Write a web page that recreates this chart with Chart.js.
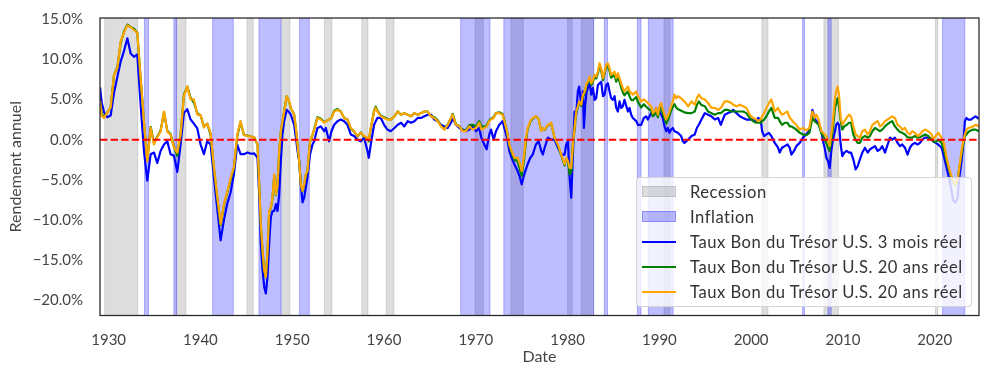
<!DOCTYPE html>
<html>
<head>
<meta charset="utf-8">
<script src="https://cdn.jsdelivr.net/npm/chart.js@4.4.1/dist/chart.umd.min.js"></script>
<style>
  html, body { margin: 0; padding: 0; background: #fff; }
  #wrap { position: relative; width: 989px; height: 375px; }
  #legend {
    position: absolute; left: 636px; top: 177px; width: 336px; height: 130px;
    box-sizing: border-box; border: 1px solid #d4d4d4; border-radius: 4px;
    background: rgba(255, 255, 255, 0.8);
    font-family: Lato, sans-serif; font-size: 16.6px; letter-spacing: 0.5px; color: #333;
  }
  .row { position: absolute; left: 0; width: 100%; height: 24px; }
  .key { position: absolute; left: 5px; width: 34px; }
  .patch { top: 6px; height: 11px; box-sizing: border-box; }
  .line { top: 11px; height: 2px; }
  .txt { position: absolute; left: 53px; top: 2px; white-space: nowrap; line-height: 20px; }
</style>
</head>
<body>
<div id="wrap">
  <canvas id="chart" width="989" height="375"></canvas>
  <div id="legend"></div>
</div>
<script>
// Taux réels des bons du Trésor U.S. (en %)
const years = [
  // 1929-1945
  1929.06, 1929.25, 1929.5, 1929.86, 1930.22, 1930.58, 1930.95, 1931.31, 1931.67, 1932.04,
  1932.4, 1932.76, 1933.12, 1933.49, 1933.85, 1934.21, 1934.58, 1934.94, 1935.3, 1935.66,
  1936.03, 1936.39, 1936.75, 1937.12, 1937.48, 1937.84, 1938.2, 1938.57, 1938.93, 1939.29,
  1939.66, 1940.02, 1940.38, 1940.74, 1941.11, 1941.47, 1941.83, 1942.2, 1942.56, 1942.92,
  1943.28, 1943.65, 1944.01, 1944.37, 1944.73,
  // 1945-1961
  1945.13, 1945.5, 1945.86, 1946.22, 1946.4, 1946.58, 1946.77, 1946.95, 1947.13, 1947.31,
  1947.49, 1947.67, 1947.85, 1948.04, 1948.22, 1948.4, 1948.58, 1948.76, 1948.94, 1949.12,
  1949.4, 1949.67, 1949.85, 1950.21, 1950.4, 1950.58, 1950.76, 1950.94, 1951.12, 1951.3,
  1951.48, 1951.66, 1951.94, 1952.21, 1952.39, 1952.75, 1953.12, 1953.48, 1953.66, 1954.02,
  1954.28, 1954.57, 1954.93, 1955.29, 1955.66, 1956.02, 1956.38, 1956.74, 1957.11, 1957.47,
  1957.83, 1958.2, 1958.34, 1958.56, 1958.92, 1959.1, 1959.28, 1959.65, 1960.01, 1960.37,
  1960.73,
  // 1961-1977
  1961.13, 1961.5, 1961.86, 1962.22, 1962.58, 1962.95, 1963.31, 1963.67, 1964.04, 1964.4,
  1964.76, 1965.12, 1965.49, 1965.85, 1966.21, 1966.58, 1966.94, 1967.3, 1967.48, 1967.84,
  1968.21, 1968.57, 1968.94, 1969.3, 1969.66, 1970.02, 1970.38, 1970.6, 1970.93, 1971.18,
  1971.47, 1971.66, 1971.95, 1972.2, 1972.56, 1972.92, 1973.11, 1973.4, 1973.65, 1973.9,
  1974.2, 1974.56, 1974.81, 1975.0, 1975.28, 1975.46, 1975.65, 1975.94, 1976.2, 1976.55,
  1976.85,
  // 1977-1993
  1977.13, 1977.31, 1977.5, 1977.86, 1978.22, 1978.58, 1978.95, 1979.31, 1979.67, 1979.85,
  1980.04, 1980.22, 1980.4, 1980.58, 1980.76, 1980.94, 1981.12, 1981.26, 1981.49, 1981.67,
  1981.78, 1981.92, 1982.07, 1982.21, 1982.4, 1982.58, 1982.76, 1982.94, 1983.12, 1983.3,
  1983.48, 1983.66, 1983.85, 1984.03, 1984.21, 1984.39, 1984.57, 1984.75, 1984.94, 1985.12,
  1985.3, 1985.48, 1985.66, 1985.84, 1986.02, 1986.2, 1986.57, 1986.75, 1986.93, 1987.11,
  1987.48, 1987.66, 1988.02, 1988.31, 1988.56, 1988.74, 1989.11, 1989.29, 1989.47, 1989.65,
  1989.83, 1990.01, 1990.2, 1990.38, 1990.56, 1990.74, 1990.92, 1991.1, 1991.28, 1991.47,
  1991.65, 1991.83, 1992.01, 1992.37, 1992.55, 1992.73,
  // 1993-2009
  1993.13, 1993.5, 1993.86, 1994.08, 1994.3, 1994.58, 1994.95, 1995.31, 1995.67, 1996.04,
  1996.4, 1996.69, 1997.12, 1997.49, 1997.85, 1998.03, 1998.4, 1998.76, 1999.12, 1999.48,
  1999.85, 2000.21, 2000.57, 2000.75, 2001.04, 2001.19, 2001.41, 2001.66, 2001.93, 2002.2,
  2002.57, 2002.93, 2003.11, 2003.36, 2003.66, 2003.95, 2004.2, 2004.38, 2004.67, 2004.92,
  2005.29, 2005.65, 2006.02, 2006.34, 2006.52, 2006.67, 2006.92, 2007.1, 2007.35, 2007.65,
  2007.83, 2008.01, 2008.19, 2008.37, 2008.55, 2008.73, 2008.91,
  // 2009-2024
  2009.13, 2009.26, 2009.42, 2009.57, 2009.75, 2009.93, 2010.15, 2010.4, 2010.66, 2010.88,
  2011.13, 2011.38, 2011.6, 2011.85, 2012.11, 2012.4, 2012.69, 2012.94, 2013.2, 2013.49,
  2013.78, 2014.03, 2014.28, 2014.58, 2014.87, 2015.12, 2015.37, 2015.66, 2015.95, 2016.21,
  2016.46, 2016.75, 2017.04, 2017.3, 2017.55, 2017.84, 2018.13, 2018.39, 2018.64, 2018.93,
  2019.29, 2019.66, 2019.84, 2020.09, 2020.38, 2020.74, 2021.03, 2021.29, 2021.54, 2021.76,
  2022.01, 2022.27, 2022.49, 2022.67, 2022.92, 2023.1, 2023.28, 2023.46, 2023.65, 2023.94,
  2024.19, 2024.45, 2024.8
];

// Taux Bon du Trésor U.S. 3 mois réel
const bill3m = [
  6.5, 4.6, 3.4, 2.8, 3.0, 5.8, 7.8, 9.7, 11.0, 12.6,
  10.7, 10.3, 10.6, 4.3, -1.4, -5.1, -1.8, -1.6, -2.9, -1.4,
  -0.6, -0.2, -1.8, -2.0, -4.0, -0.6, 3.3, 3.8, 2.5, 2.0,
  1.4, -0.6, -1.8, -0.2, -0.6, -4.7, -8.5, -12.5, -10.0, -8.0,
  -6.6, -4.3, -0.6, -1.8, -1.8,
  -1.6, -1.75, -1.7, -2.25, -6.8, -12.9, -16.2, -18.3, -19.1, -17.0,
  -12.9, -9.65, -8.9, -8.85, -8.0, -8.85, -6.8, -2.65, 0.65, 2.3,
  3.7, 3.4, 3.1, 1.85, 0.25, -1.4, -2.65, -5.55, -7.8, -7.2,
  -5.95, -4.7, -1.85, -0.6, -0.2, 1.45, 1.65, 1.05, 1.45, -0.2,
  1.05, 1.85, 2.3, 2.5, 2.3, 1.85, 0.65, 0.45, 0.0, -0.2,
  0.25, -1.4, -2.25, -0.6, 1.85, 2.3, 2.7, 2.7, 1.85, 1.25,
  1.05,
  1.45, 1.85, 2.1, 1.65, 2.3, 2.1, 2.3, 2.7, 2.7, 2.9,
  3.1, 3.1, 2.5, 2.3, 1.85, 1.65, 1.45, 2.1, 2.7, 1.85,
  1.45, 1.25, 1.05, 1.25, 1.65, 1.05, 1.45, 0.25, -0.6, -1.2,
  0.65, 1.25, 0.0, 1.05, 1.85, 2.3, 1.45, 0.25, -1.4, -2.25,
  -3.05, -3.9, -4.7, -5.55, -4.3, -3.7, -3.05, -2.25, -1.85, -0.6,
  -0.2,
  -1.4, -1.85, -1.0, 0.25, 0.0, 0.0, -1.0, -1.85, -1.85, -0.6,
  -0.2, -4.7, -7.2, -1.85, 3.5, 3.1, 6.0, 6.6, 4.35, 6.0,
  1.45, 4.35, 6.0, 6.4, 7.2, 5.6, 6.4, 4.95, 5.15, 6.8,
  7.0, 7.2, 5.4, 5.6, 6.8, 7.0, 6.0, 5.15, 4.95, 5.4,
  3.95, 3.5, 4.75, 3.95, 4.15, 4.95, 3.5, 3.95, 3.1, 2.7,
  2.3, 1.85, 1.85, 2.7, 2.9, 2.5, 3.3, 3.3, 3.5, 3.95,
  3.3, 3.5, 3.1, 2.7, 1.65, 1.05, 1.45, 0.85, 1.25, 1.45,
  1.05, 0.95, 0.85, 0.45, -0.2, -0.4,
  0.0, 0.45, 0.65, 1.45, 1.85, 2.5, 3.3, 3.1, 2.9, 2.5,
  2.7, 1.85, 3.1, 3.3, 3.5, 3.7, 3.3, 2.9, 2.7, 2.5,
  2.5, 2.5, 2.3, 2.7, 2.5, 1.05, 0.45, 0.65, 0.85, 0.45,
  -0.4, -1.0, -1.6, -1.0, -0.8, -0.6, -1.0, -1.85, -1.4, -0.8,
  -0.4, 0.25, 0.7, 1.1, 2.3, 3.7, 2.7, 2.3, 2.1, 1.05,
  -0.2, -1.0, -2.25, -2.65, -3.5, -1.4, 0.0,
  1.05, 1.85, 2.1, 1.85, -0.6, -2.05, -1.6, -1.4, -1.6, -1.6,
  -2.45, -3.7, -3.3, -2.45, -1.6, -1.0, -1.6, -1.2, -1.0, -0.8,
  -1.4, -1.2, -0.8, -1.6, -0.6, 0.25, 0.0, 0.25, -0.4, -0.8,
  -0.6, -1.0, -1.85, -1.0, -0.6, -0.4, -0.6, -0.4, 0.0, 0.25,
  0.25, 0.0, -0.2, -0.4, -0.6, -1.0, -2.25, -3.5, -4.7, -5.95,
  -7.6, -7.8, -7.2, -4.7, -2.65, -0.6, 2.3, 2.7, 2.5, 2.5,
  2.7, 2.9, 2.6
];

// Taux Bon du Trésor U.S. 20 ans réel (vert)
const bond20Green = [
  4.8, 3.2, 2.8, 3.4, 4.0, 8.0, 9.0, 12.0, 13.4, 14.3,
  14.0, 13.8, 13.3, 7.6, 2.2, -2.6, 1.6, -0.4, 0.4, 1.1,
  3.4, 1.1, 0.7, -0.9, -2.0, 0.6, 5.6, 6.6, 5.2, 4.6,
  3.3, 3.0, 1.6, 2.0, 0.6, -3.6, -7.2, -10.6, -8.2, -6.6,
  -5.0, -3.5, 0.4, 2.2, 0.6,
  0.5, 0.4, 0.3, -0.6, -5.6, -10.6, -13.9, -16.3, -17.1, -13.9,
  -9.0, -8.5, -7.3, -4.5, -6.9, -5.6, -1.5, 1.0, 2.2, 3.5,
  5.4, 4.7, 3.9, 3.1, 1.4, -0.6, -2.7, -5.6, -6.4, -5.6,
  -4.4, -4.0, -0.3, 0.6, 1.3, 2.8, 2.6, 2.2, 2.3, 2.5,
  2.7, 3.6, 3.8, 3.5, 2.7, 2.5, 1.4, 1.0, 0.4, 0.9,
  0.4, 0.1, -0.2, 1.4, 3.6, 4.1, 3.6, 3.0, 2.8, 2.6,
  2.5,
  2.9, 3.5, 3.1, 3.3, 3.1, 2.9, 3.3, 3.1, 3.3, 3.5,
  3.5, 2.9, 2.8, 2.4, 1.7, 1.3, 1.9, 2.7, 3.2, 1.9,
  1.7, 1.1, 1.2, 1.8, 1.85, 1.65, 2.3, 1.65, 1.6, 1.8,
  2.4, 2.6, 2.8, 3.3, 3.4, 3.2, 2.4, 1.0, -0.7, -1.6,
  -2.5, -2.65, -3.7, -4.5, -2.25, -0.2, 1.3, 2.2, 2.6, 2.9,
  2.5,
  1.1, 1.4, 1.2, 1.8, 2.0, 0.2, -0.7, -2.0, -3.2, -2.4,
  -2.8, -4.3, -4.0, -0.8, 1.3, 3.3, 4.0, 4.6, 4.2, 5.4,
  5.6, 6.0, 6.8, 7.0, 7.6, 6.8, 7.2, 7.8, 7.6, 8.2,
  9.2, 8.6, 7.4, 8.2, 9.0, 9.2, 8.5, 7.7, 7.9, 8.0,
  7.2, 7.8, 7.2, 6.5, 5.9, 5.5, 6.0, 5.4, 4.95, 4.9,
  5.3, 4.7, 4.0, 4.4, 4.1, 3.9, 3.6, 2.9, 3.1, 3.5,
  2.8, 3.7, 4.0, 3.2, 2.6, 2.0, 2.4, 3.0, 3.6, 4.1,
  4.4, 4.0, 3.8, 3.6, 3.5, 3.4,
  3.3, 3.3, 3.5, 4.3, 4.75, 4.3, 4.15, 3.5, 3.3, 3.1,
  3.3, 3.3, 3.7, 3.7, 3.5, 3.5, 3.5, 3.5, 3.5, 3.3,
  2.7, 2.3, 2.1, 2.1, 2.1, 2.3, 2.5, 2.9, 3.5, 3.95,
  2.7, 2.7, 2.3, 1.85, 2.1, 2.1, 1.65, 1.65, 1.45, 1.25,
  0.85, 0.65, 0.55, 0.85, 1.85, 2.7, 2.3, 2.1, 1.85, 0.85,
  0.45, 0.0, -0.4, -1.0, -1.4, -0.2, 1.45,
  3.95, 4.5, 5.15, 4.15, 2.3, 1.25, 1.65, 1.85, 2.1, 2.1,
  0.65, 0.0, -0.4, -0.4, 0.25, 0.45, 0.25, 0.45, 1.05, 1.45,
  1.25, 1.05, 1.25, 1.65, 1.95, 2.15, 2.3, 1.65, 1.25, 0.95,
  0.85, 0.65, 0.3, 0.25, 0.25, 0.45, 0.25, 0.3, 0.45, 0.65,
  0.45, 0.0, -0.2, -0.3, 0.0, -0.4, -1.4, -2.65, -3.7, -4.5,
  -5.3, -5.6, -5.1, -3.5, -1.85, -0.6, 0.45, 0.65, 0.95, 1.15,
  1.25, 1.25, 1.05
];

// Taux Bon du Trésor U.S. 20 ans réel (orange)
const bond20Orange = [
  4.8, 3.0, 2.7, 3.4, 4.0, 8.0, 8.9, 12.2, 13.3, 14.2,
  14.0, 13.6, 13.3, 7.6, 2.2, -2.7, 1.5, -0.6, 0.3, 1.0,
  3.5, 1.0, 0.6, -1.0, -1.6, 0.6, 5.4, 6.6, 5.0, 5.0,
  3.1, 3.1, 1.5, 2.0, 0.8, -3.4, -7.0, -10.5, -8.0, -6.5,
  -4.8, -3.4, 0.6, 2.3, 0.6,
  0.45, 0.4, 0.3, -0.6, -5.5, -10.5, -13.8, -16.2, -17.05, -13.8,
  -8.85, -8.45, -7.2, -4.3, -6.8, -5.55, -1.4, 1.05, 2.3, 3.5,
  5.4, 4.75, 3.95, 3.1, 1.45, -0.6, -2.65, -5.55, -6.35, -5.55,
  -4.3, -3.9, -0.2, 0.65, 1.25, 2.7, 2.5, 2.1, 2.3, 2.5,
  2.7, 3.5, 3.7, 3.5, 2.7, 2.5, 1.45, 1.05, 0.45, 0.85,
  0.45, 0.25, 0.0, 1.45, 3.5, 3.95, 3.5, 2.9, 2.7, 2.5,
  2.5,
  2.9, 3.5, 3.1, 3.3, 3.1, 2.9, 3.3, 3.1, 3.3, 3.5,
  3.5, 2.9, 2.7, 2.3, 1.65, 1.25, 1.85, 2.7, 3.1, 1.85,
  1.65, 1.05, 1.05, 1.65, 1.25, 1.45, 2.1, 1.25, 1.45, 1.65,
  2.3, 2.5, 2.7, 3.3, 3.3, 3.1, 2.3, 1.05, -0.6, -1.4,
  -2.25, -2.25, -3.05, -3.9, -1.85, 0.25, 1.45, 2.3, 2.7, 2.9,
  2.5,
  1.05, 1.45, 1.25, 1.85, 2.1, 0.25, -0.6, -1.85, -3.05, -2.25,
  -2.65, -3.5, -3.5, -0.6, 1.45, 3.5, 4.15, 4.75, 4.35, 5.6,
  5.8, 6.2, 7.0, 7.2, 7.85, 7.0, 7.4, 8.05, 7.85, 8.45,
  9.5, 8.85, 7.65, 8.45, 9.3, 9.5, 8.85, 8.05, 8.25, 8.45,
  7.65, 8.25, 7.65, 7.0, 6.4, 6.0, 6.6, 6.0, 5.8, 5.6,
  6.0, 5.4, 4.75, 5.0, 4.75, 4.55, 4.15, 3.3, 3.5, 3.95,
  3.1, 4.15, 4.55, 3.7, 3.1, 2.5, 2.9, 3.5, 4.15, 4.75,
  5.6, 5.15, 5.4, 5.15, 4.95, 4.75,
  4.15, 4.75, 4.35, 5.15, 5.6, 5.15, 5.0, 4.55, 3.95, 3.95,
  3.7, 3.95, 4.75, 4.75, 4.55, 4.35, 4.15, 4.35, 4.15, 3.95,
  3.1, 2.7, 2.5, 2.3, 2.5, 2.9, 3.3, 3.95, 4.55, 5.0,
  3.5, 3.95, 3.5, 3.1, 3.3, 3.5, 2.7, 2.5, 2.1, 1.85,
  1.25, 1.45, 1.15, 1.45, 2.7, 3.5, 2.7, 3.1, 2.5, 1.05,
  0.85, 0.65, 0.45, -0.2, -0.8, 0.65, 2.3,
  5.15, 6.0, 6.6, 5.6, 2.7, 1.85, 2.3, 2.7, 3.1, 2.9,
  1.65, 0.65, 0.45, 0.25, 1.05, 1.25, 0.65, 1.05, 1.85, 2.1,
  2.3, 1.65, 1.85, 2.3, 2.5, 2.7, 2.9, 2.7, 1.85, 1.65,
  1.25, 1.45, 0.85, 0.65, 1.05, 0.85, 0.45, 0.65, 1.05, 1.25,
  1.05, 0.65, 0.0, 0.45, 0.85, 0.25, -0.6, -2.25, -3.5, -4.3,
  -5.1, -5.55, -5.1, -3.5, -1.4, -0.2, 0.65, 1.25, 1.45, 1.55,
  1.65, 1.85, 1.65
];

// Périodes de récession (NBER) et d'inflation, en années décimales
const recessionStart = [1929.58, 1937.33, 1945.08, 1948.83, 1953.5, 1957.58, 1960.25, 1969.92, 1973.83, 1980.0, 1981.5, 1990.5, 2001.17, 2007.92, 2020.08];
const recessionEnd   = [1933.17, 1938.42, 1945.75, 1949.75, 1954.33, 1958.25, 1961.08, 1970.83, 1975.17, 1980.5, 1982.83, 1991.17, 2001.83, 2009.5, 2020.33];
const inflationStart = [1933.9, 1937.1, 1941.33, 1946.37, 1950.8, 1968.35, 1973.05, 1984.0, 1987.6, 1988.8, 2005.6, 2008.36, 2020.85];
const inflationEnd   = [1934.35, 1937.4, 1943.58, 1948.77, 1951.86, 1971.55, 1982.85, 1984.35, 1988.0, 1991.5, 2005.8, 2008.72, 2023.28];

const xTicks = [1930, 1940, 1950, 1960, 1970, 1980, 1990, 2000, 2010, 2020];
const yTicks = [-20, -15, -10, -5, 0, 5, 10, 15];

const seriesLabels = [
  'Taux Bon du Trésor U.S. 3 mois réel',
  'Taux Bon du Trésor U.S. 20 ans réel',
  'Taux Bon du Trésor U.S. 20 ans réel'
];

const X_MIN = 1929.06;
const X_MAX = 2024.82;

const RECESSION_COLOR = 'rgba(128, 128, 128, 0.27)';
const INFLATION_COLOR = 'rgba(0, 0, 255, 0.26)';
const TEXT_COLOR = '#444';

[bill3m, bond20Green, bond20Orange].forEach((s, i) => {
  if (s.length !== years.length) throw new Error('series ' + i + ' length ' + s.length + ' != ' + years.length);
});

const toPoints = values => years.map((x, i) => ({ x, y: values[i] }));

Chart.defaults.font.family = 'Lato, sans-serif';
Chart.defaults.color = TEXT_COLOR;

/**
 * Shaded vertical bands (recession / inflation) behind the lines
 */
const bandsPlugin = {
  id: 'bands',
  beforeDatasetsDraw(chart) {
    const { ctx, chartArea: a, scales: { x } } = chart;
    ctx.save();
    ctx.beginPath();
    ctx.rect(a.left, a.top, a.right - a.left, a.bottom - a.top);
    ctx.clip();
    const draw = (starts, ends, color) => {
      ctx.fillStyle = color;
      ctx.strokeStyle = color;
      ctx.lineWidth = 1;
      starts.forEach((s, i) => {
        const x0 = x.getPixelForValue(s);
        const x1 = x.getPixelForValue(ends[i]);
        ctx.fillRect(x0, a.top, x1 - x0, a.bottom - a.top);
        ctx.strokeRect(x0, a.top, x1 - x0, a.bottom - a.top);
      });
    };
    draw(recessionStart, recessionEnd, RECESSION_COLOR);
    draw(inflationStart, inflationEnd, INFLATION_COLOR);
    ctx.restore();
  }
};

/**
 * Box around the plot area
 */
const framePlugin = {
  id: 'frame',
  afterDraw(chart) {
    const { ctx, chartArea: a } = chart;
    ctx.save();
    ctx.strokeStyle = '#262626';
    ctx.lineWidth = 1.25;
    ctx.strokeRect(a.left, a.top, a.right - a.left, a.bottom - a.top);
    ctx.restore();
  }
};

const lineStyle = color => ({
  borderColor: color,
  backgroundColor: color,
  borderWidth: 2.2,
  pointRadius: 0,
  fill: false,
  tension: 0,
  borderJoinStyle: 'round'
});

new Chart(document.getElementById('chart'), {
  type: 'line',
  data: {
    datasets: [
      {
        label: 'zero',
        data: [{ x: X_MIN, y: 0 }, { x: X_MAX, y: 0 }],
        ...lineStyle('#ff0000'),
        borderWidth: 2,
        borderDash: [7.4, 3.2],
        order: 0
      },
      { label: seriesLabels[0], data: toPoints(bill3m), ...lineStyle('#0000ff'), order: 3 },
      { label: seriesLabels[1], data: toPoints(bond20Green), ...lineStyle('#008000'), order: 2 },
      { label: seriesLabels[2], data: toPoints(bond20Orange), ...lineStyle('#ffa500'), order: 1 }
    ]
  },
  options: {
    responsive: false,
    animation: false,
    layout: { padding: { top: 16, right: 10, left: 0, bottom: 0 } },
    plugins: {
      legend: { display: false },
      tooltip: { enabled: false }
    },
    scales: {
      x: {
        type: 'linear',
        min: X_MIN,
        max: X_MAX,
        grid: { display: false },
        border: { display: false },
        afterFit(scale) { scale.height = 59.5; },
        afterBuildTicks(scale) { scale.ticks = xTicks.map(v => ({ value: v })); },
        ticks: {
          autoSkip: false,
          maxRotation: 0,
          padding: 8,
          color: TEXT_COLOR,
          font: { size: 15 },
          callback: v => String(v)
        },
        title: {
          display: true,
          text: 'Date',
          color: TEXT_COLOR,
          font: { size: 16 },
          padding: { top: 0, bottom: 9 }
        }
      },
      y: {
        min: -21.85,
        max: 15.12,
        grid: { display: false },
        border: { display: false },
        afterFit(scale) { scale.width = 100; },
        afterBuildTicks(scale) { scale.ticks = yTicks.map(v => ({ value: v })); },
        ticks: {
          padding: 9,
          color: TEXT_COLOR,
          font: { size: 15 },
          callback: v => (v < 0 ? '\u2212' : '') + Math.abs(v).toFixed(1) + '%'
        },
        title: {
          display: true,
          text: 'Rendement annuel',
          color: TEXT_COLOR,
          font: { size: 16 },
          padding: { top: 6, bottom: 0 }
        }
      }
    }
  },
  plugins: [bandsPlugin, framePlugin]
});

// Legend (inside the plot, lower right)
const legendItems = [
  { type: 'patch', color: RECESSION_COLOR, text: 'Recession' },
  { type: 'patch', color: INFLATION_COLOR, text: 'Inflation' },
  { type: 'line', color: '#0000ff', text: seriesLabels[0] },
  { type: 'line', color: '#008000', text: seriesLabels[1] },
  { type: 'line', color: '#ffa500', text: seriesLabels[2] }
];
const legendEl = document.getElementById('legend');
legendItems.forEach((item, i) => {
  const row = document.createElement('div');
  row.className = 'row';
  row.style.top = (2 + i * 25) + 'px';
  const key = document.createElement('div');
  key.className = 'key ' + item.type;
  key.style.background = item.color;
  if (item.type === 'patch') key.style.border = '1px solid ' + item.color;
  const txt = document.createElement('div');
  txt.className = 'txt';
  txt.textContent = item.text;
  row.appendChild(key);
  row.appendChild(txt);
  legendEl.appendChild(row);
});
</script>
</body>
</html>
